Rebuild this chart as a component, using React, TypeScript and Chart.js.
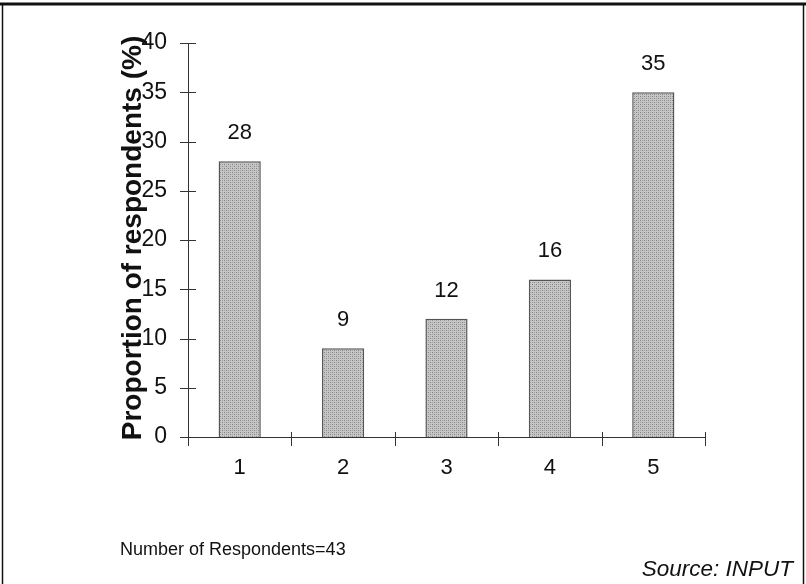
import React, { useEffect, useRef } from "react";
import { Chart, registerables } from "chart.js";

Chart.register(...registerables);

const categories = ["1", "2", "3", "4", "5"];
const proportions = [28, 9, 12, 16, 35];
const yTicks = [0, 5, 10, 15, 20, 25, 30, 35, 40];
const yTitle = "Proportion of respondents (%)";
const footNote = "Number of Respondents=43";
const sourceNote = "Source: INPUT";

const FONT = "'Liberation Sans', Arial, Helvetica, sans-serif";

function makeStipple(): CanvasPattern | string {
  const c = document.createElement("canvas");
  c.width = 4;
  c.height = 4;
  const g = c.getContext("2d");
  if (!g) return "#bcbcbc";
  g.fillStyle = "#c6c6c6";
  g.fillRect(0, 0, 4, 4);
  g.fillStyle = "#828282";
  g.fillRect(0, 0, 1, 1);
  g.fillRect(2, 2, 1, 1);
  g.fillStyle = "#a4a4a4";
  g.fillRect(2, 0, 1, 1);
  g.fillRect(0, 2, 1, 1);
  const p = g.createPattern(c, "repeat");
  return p || "#bcbcbc";
}

// Frame, axis tick marks, rotated axis title, value labels and notes
const decorations = {
  id: "decorations",
  afterDraw(chart: any) {
    const ctx = chart.ctx as CanvasRenderingContext2D;
    const { left, right, bottom } = chart.chartArea;
    const y = chart.scales.y;
    ctx.save();

    // outer frame
    ctx.strokeStyle = "#111";
    ctx.lineWidth = 1.5;
    ctx.beginPath();
    ctx.moveTo(2.5, 4);
    ctx.lineTo(2.5, 584);
    ctx.moveTo(803.5, 4);
    ctx.lineTo(803.5, 584);
    ctx.stroke();
    ctx.lineWidth = 3;
    ctx.beginPath();
    ctx.moveTo(0, 4);
    ctx.lineTo(806, 4);
    ctx.stroke();

    // tick marks crossing the axes
    ctx.strokeStyle = "#333";
    ctx.lineWidth = 1;
    ctx.beginPath();
    yTicks.forEach((v) => {
      const py = Math.round(y.getPixelForValue(v)) + 0.5;
      ctx.moveTo(left - 8, py);
      ctx.lineTo(left + 8, py);
    });
    const n = categories.length;
    const step = (right - left) / n;
    for (let i = 0; i <= n; i++) {
      const px = Math.round(left + step * i) + 0.5;
      ctx.moveTo(px, bottom - 5);
      ctx.lineTo(px, bottom + 9);
    }
    ctx.stroke();

    // value labels above bars
    ctx.fillStyle = "#111";
    ctx.font = `22px ${FONT}`;
    ctx.textAlign = "center";
    ctx.textBaseline = "bottom";
    const meta = chart.getDatasetMeta(0);
    meta.data.forEach((bar: any, i: number) => {
      ctx.fillText(String(proportions[i]), bar.x, bar.y - 17);
    });

    // rotated y-axis title
    ctx.save();
    ctx.translate(133, 238);
    ctx.rotate(-Math.PI / 2);
    ctx.font = `bold 28px ${FONT}`;
    ctx.textAlign = "center";
    ctx.textBaseline = "middle";
    ctx.fillText(yTitle, 0, 0);
    ctx.restore();

    // notes
    ctx.font = `18px ${FONT}`;
    ctx.textAlign = "left";
    ctx.textBaseline = "middle";
    ctx.fillText(footNote, 120, 550);
    ctx.font = `italic 22.5px ${FONT}`;
    ctx.textAlign = "right";
    ctx.fillText(sourceNote, 793, 570);

    ctx.restore();
  },
};

export default function App() {
  const ref = useRef<HTMLCanvasElement | null>(null);

  useEffect(() => {
    const canvas = ref.current;
    if (!canvas) return;
    const chart = new Chart(canvas, {
      type: "bar",
      data: {
        labels: categories,
        datasets: [
          {
            data: proportions,
            backgroundColor: makeStipple() as any,
            borderColor: "#555",
            borderWidth: 1.5,
            categoryPercentage: 0.85,
            barPercentage: 0.48,
          },
        ],
      },
      options: {
        responsive: false,
        animation: false,
        layout: { padding: { top: 43, right: 101, left: 0, bottom: 0 } },
        plugins: {
          legend: { display: false },
          tooltip: { enabled: false },
          title: { display: false },
        },
        scales: {
          x: {
            offset: true,
            grid: { display: false, drawTicks: false },
            border: { display: true, color: "#333", width: 1 },
            ticks: {
              padding: 18,
              color: "#111",
              font: { family: FONT, size: 22 },
            },
            afterFit: (s: any) => {
              s.height = 147;
            },
          },
          y: {
            min: 0,
            max: 40,
            grid: { display: false, drawTicks: false },
            border: { display: true, color: "#333", width: 1 },
            ticks: {
              stepSize: 5,
              padding: 21,
              color: "#111",
              font: { family: FONT, size: 23 },
              autoSkip: false,
            },
            afterFit: (s: any) => {
              s.width = 188;
            },
          },
        },
      },
      plugins: [decorations],
    });
    return () => chart.destroy();
  }, []);

  return (
    <div style={{ position: "fixed", left: 0, top: 0, width: 806, height: 584, background: "#fff" }}>
      <canvas ref={ref} width={806} height={584} style={{ display: "block", width: 806, height: 584 }} />
    </div>
  );
}
